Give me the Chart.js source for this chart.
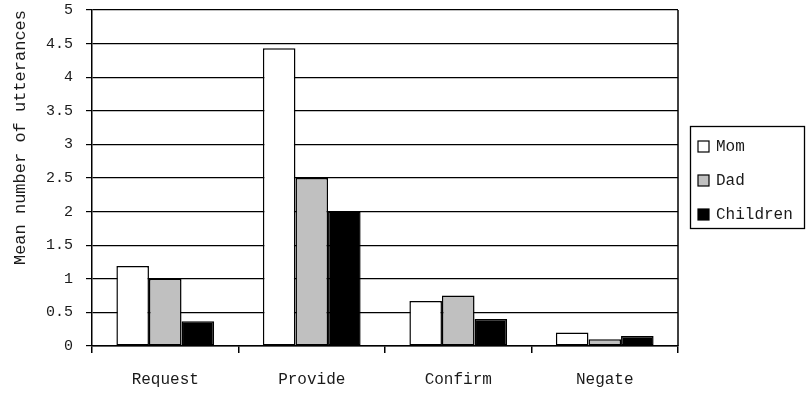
<!DOCTYPE html>
<html>
<head>
<meta charset="utf-8">
<script src="https://cdn.jsdelivr.net/npm/chart.js@4/dist/chart.umd.min.js"></script>
<style>
  html, body { margin: 0; padding: 0; background: #fff; }
  #wrap { width: 808px; height: 394px; }
</style>
</head>
<body>
<div id="wrap"><canvas id="c" width="808" height="394"></canvas></div>
<script>
// Speech act categories and mean utterance counts per speaker
const categories = ['Request', 'Provide', 'Confirm', 'Negate'];
const momValues = [1.19, 4.43, 0.67, 0.20];
const dadValues = [1.00, 2.50, 0.75, 0.10];
const childrenValues = [0.37, 2.00, 0.40, 0.15];
const seriesNames = ['Mom', 'Dad', 'Children'];
const yTickValues = [0, 0.5, 1, 1.5, 2, 2.5, 3, 3.5, 4, 4.5, 5];

const FONT = 'Liberation Mono';
const INK = '#1a1a1a';

// Frame on the right edge of the plot plus a boxed legend beside it
const framePlugin = {
  id: 'frameAndLegend',
  afterDraw(chart) {
    const { ctx, chartArea } = chart;
    ctx.save();
    ctx.strokeStyle = '#000';
    ctx.lineWidth = 1.5;
    ctx.beginPath();
    ctx.moveTo(chartArea.right, chartArea.top);
    ctx.lineTo(chartArea.right, chartArea.bottom);
    ctx.stroke();

    // legend
    const boxLeft = chartArea.right + 12;
    const boxW = 114;
    const rowH = 34;
    const n = chart.data.datasets.length;
    const boxH = rowH * n;
    const boxTop = (chartArea.top + chartArea.bottom) / 2 - boxH / 2 - 1;
    ctx.lineWidth = 1.3;
    ctx.strokeRect(boxLeft + 0.5, boxTop + 0.5, boxW, boxH);
    ctx.font = '16px "' + FONT + '"';
    ctx.textBaseline = 'middle';
    ctx.textAlign = 'left';
    chart.data.datasets.forEach((ds, i) => {
      const cy = boxTop + rowH / 2 + 4 + i * rowH;
      ctx.fillStyle = ds.backgroundColor;
      ctx.fillRect(boxLeft + 8, cy - 6, 11, 11);
      ctx.strokeStyle = '#000';
      ctx.lineWidth = 1.2;
      ctx.strokeRect(boxLeft + 8, cy - 6, 11, 11);
      ctx.fillStyle = INK;
      ctx.fillText(ds.label, boxLeft + 26, cy);
    });
    ctx.restore();
  }
};

const barStyle = { borderColor: '#000', borderWidth: 1.5, borderSkipped: false };

new Chart(document.getElementById('c'), {
  type: 'bar',
  data: {
    labels: categories,
    datasets: [
      Object.assign({ label: seriesNames[0], data: momValues, backgroundColor: '#ffffff' }, barStyle),
      Object.assign({ label: seriesNames[1], data: dadValues, backgroundColor: '#c0c0c0' }, barStyle),
      Object.assign({ label: seriesNames[2], data: childrenValues, backgroundColor: '#000000' }, barStyle)
    ]
  },
  options: {
    responsive: false,
    animation: false,
    devicePixelRatio: 1,
    layout: { padding: { top: 10, right: 130, left: 0, bottom: 0 } },
    datasets: { bar: { categoryPercentage: 0.667, barPercentage: 1.0 } },
    plugins: {
      legend: { display: false },
      tooltip: { enabled: false }
    },
    scales: {
      x: {
        offset: true,
        afterFit(scale) { scale.height = 48; },
        grid: {
          offset: true,
          drawOnChartArea: false,
          drawTicks: true,
          tickLength: 7,
          color: '#000',
          lineWidth: 1.5
        },
        border: { display: true, color: '#000', width: 1.5 },
        ticks: {
          color: INK,
          padding: 17,
          font: { family: FONT, size: 16 },
          maxRotation: 0
        }
      },
      y: {
        min: 0,
        max: 5,
        afterFit(scale) {
          scale.width = 92;
          scale.paddingTop = 0;
          scale.paddingBottom = 0;
        },
        afterBuildTicks(scale) {
          scale.ticks = yTickValues.map(v => ({ value: v }));
        },
        grid: {
          color: '#000',
          lineWidth: 1.2,
          drawTicks: true,
          tickLength: 6
        },
        border: { display: true, color: '#000', width: 1.5 },
        ticks: {
          color: INK,
          padding: 13,
          font: { family: FONT, size: 15 },
          callback: v => String(v)
        },
        title: {
          display: true,
          text: 'Mean number of utterances',
          align: 'end',
          color: INK,
          padding: { top: 10, bottom: 0 },
          font: { family: FONT, size: 17 }
        }
      }
    }
  },
  plugins: [framePlugin]
});
</script>
</body>
</html>
